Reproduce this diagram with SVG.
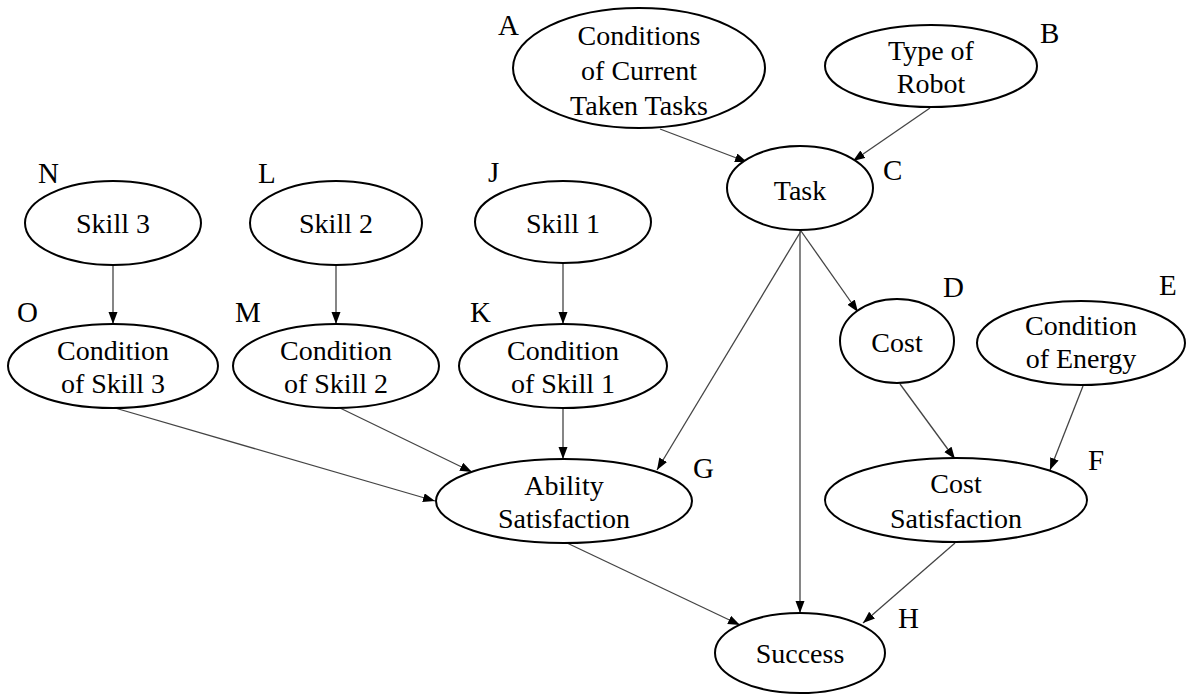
<svg xmlns="http://www.w3.org/2000/svg" width="1188" height="694" viewBox="0 0 1188 694">
  <style>
    .node ellipse { fill: #ffffff; stroke: #000000; stroke-width: 2; }
    text { font-family: 'Liberation Serif', 'Times New Roman', Tinos, 'DejaVu Serif', 'Noto Serif', serif; font-size: 28px; fill: #000000; }
    .node text.lbl { text-anchor: middle; }
    .node text.tag { font-size: 29px; text-anchor: start; }
    #connectors line { stroke: #444444; stroke-width: 1.3; fill: none; marker-end: url(#arrow); }
  </style>
  <defs>
    <marker id="arrow" markerUnits="userSpaceOnUse" markerWidth="13" markerHeight="10" refX="12" refY="4.5" orient="auto">
      <path d="M0,0 L12,4.5 L0,9 z" fill="#000000"/>
    </marker>
  </defs>
  <rect width="1188" height="694" fill="#ffffff"/>

  <g id="connectors">
    <line x1="660" y1="129" x2="747" y2="162"/>
    <line x1="930" y1="108" x2="853" y2="161"/>
    <line x1="801" y1="231" x2="657" y2="470"/>
    <line x1="800" y1="231" x2="800" y2="613"/>
    <line x1="801" y1="231" x2="858" y2="312"/>
    <line x1="113" y1="265" x2="113" y2="324"/>
    <line x1="336" y1="265" x2="336" y2="324"/>
    <line x1="563" y1="264" x2="563" y2="324"/>
    <line x1="115" y1="408" x2="435" y2="501"/>
    <line x1="340" y1="408" x2="472" y2="472"/>
    <line x1="563" y1="408" x2="563" y2="459"/>
    <line x1="900" y1="384" x2="955" y2="459"/>
    <line x1="1083" y1="386" x2="1050" y2="470"/>
    <line x1="567" y1="543" x2="740" y2="625"/>
    <line x1="955" y1="543" x2="863" y2="623"/>
  </g>

  <g id="node-A" class="node">
    <ellipse cx="639" cy="68" rx="126" ry="60"/>
    <text class="lbl" x="639" y="45">Conditions</text>
    <text class="lbl" x="639" y="80">of Current</text>
    <text class="lbl" x="639" y="115">Taken Tasks</text>
    <text class="tag" x="498" y="35">A</text>
  </g>
  <g id="node-B" class="node">
    <ellipse cx="931" cy="66" rx="106" ry="41"/>
    <text class="lbl" x="931" y="60">Type of</text>
    <text class="lbl" x="931" y="93">Robot</text>
    <text class="tag" x="1040" y="43">B</text>
  </g>
  <g id="node-C" class="node">
    <ellipse cx="800" cy="188" rx="73" ry="42"/>
    <text class="lbl" x="800" y="200">Task</text>
    <text class="tag" x="883" y="180">C</text>
  </g>
  <g id="node-D" class="node">
    <ellipse cx="897" cy="341" rx="57" ry="42"/>
    <text class="lbl" x="897" y="352">Cost</text>
    <text class="tag" x="943" y="297">D</text>
  </g>
  <g id="node-E" class="node">
    <ellipse cx="1081" cy="343" rx="104" ry="42"/>
    <text class="lbl" x="1081" y="335">Condition</text>
    <text class="lbl" x="1081" y="368">of Energy</text>
    <text class="tag" x="1159" y="295">E</text>
  </g>
  <g id="node-F" class="node">
    <ellipse cx="956" cy="500" rx="131" ry="42"/>
    <text class="lbl" x="956" y="493">Cost</text>
    <text class="lbl" x="956" y="528">Satisfaction</text>
    <text class="tag" x="1088" y="470">F</text>
  </g>
  <g id="node-G" class="node">
    <ellipse cx="564" cy="501" rx="128" ry="42"/>
    <text class="lbl" x="564" y="495">Ability</text>
    <text class="lbl" x="564" y="528">Satisfaction</text>
    <text class="tag" x="693" y="478">G</text>
  </g>
  <g id="node-H" class="node">
    <ellipse cx="800" cy="653" rx="85" ry="40"/>
    <text class="lbl" x="800" y="663">Success</text>
    <text class="tag" x="898" y="628">H</text>
  </g>
  <g id="node-J" class="node">
    <ellipse cx="563" cy="222" rx="88" ry="41"/>
    <text class="lbl" x="563" y="233">Skill 1</text>
    <text class="tag" x="488" y="182">J</text>
  </g>
  <g id="node-K" class="node">
    <ellipse cx="563" cy="366" rx="104" ry="42"/>
    <text class="lbl" x="563" y="360">Condition</text>
    <text class="lbl" x="563" y="393">of Skill 1</text>
    <text class="tag" x="470" y="322">K</text>
  </g>
  <g id="node-L" class="node">
    <ellipse cx="336" cy="223" rx="86" ry="42"/>
    <text class="lbl" x="336" y="233">Skill 2</text>
    <text class="tag" x="258" y="183">L</text>
  </g>
  <g id="node-M" class="node">
    <ellipse cx="336" cy="366" rx="103" ry="42"/>
    <text class="lbl" x="336" y="360">Condition</text>
    <text class="lbl" x="336" y="393">of Skill 2</text>
    <text class="tag" x="235" y="322">M</text>
  </g>
  <g id="node-N" class="node">
    <ellipse cx="113" cy="223" rx="88" ry="42"/>
    <text class="lbl" x="113" y="233">Skill 3</text>
    <text class="tag" x="38" y="183">N</text>
  </g>
  <g id="node-O" class="node">
    <ellipse cx="113" cy="366" rx="105" ry="42"/>
    <text class="lbl" x="113" y="360">Condition</text>
    <text class="lbl" x="113" y="393">of Skill 3</text>
    <text class="tag" x="17" y="322">O</text>
  </g>
</svg>
